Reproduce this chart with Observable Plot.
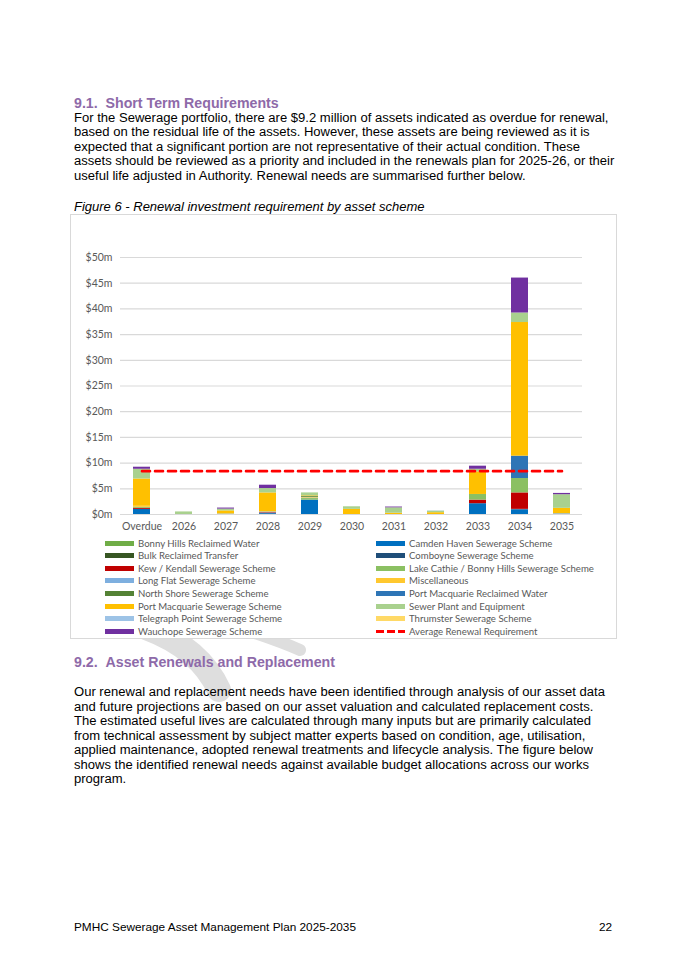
<!DOCTYPE html>
<html><head><meta charset="utf-8">
<script src="https://cdn.jsdelivr.net/npm/d3@7"></script>
<script src="https://cdn.jsdelivr.net/npm/@observablehq/plot@0.6"></script>
<style>
body{margin:0;background:#fff;}
#page{position:relative;width:685px;height:970px;overflow:hidden;font-family:"Liberation Sans",Arial,sans-serif;color:#000;background:#fff;}
.h{position:absolute;left:74px;font-weight:bold;font-size:14.2px;color:#8E6AA9;line-height:16px;white-space:nowrap;z-index:2}
.p{position:absolute;left:74px;font-size:13.05px;line-height:14.5px;white-space:nowrap;z-index:2}
.cap{position:absolute;left:74px;font-size:13px;line-height:15px;font-style:italic;white-space:nowrap}
#box{position:absolute;left:70px;top:214px;width:545px;height:423px;border:1px solid #D9D9D9;background:#fff;z-index:1}
#chart{position:absolute;left:0;top:0}
#legend{position:absolute;left:0;top:0;width:100%;height:100%;pointer-events:none}
.li{position:absolute;display:flex;align-items:center;height:12px;font-family:Lato,"Open Sans",sans-serif;font-size:9.6px;color:#595959;white-space:nowrap}
.sw{width:29px;height:5px;margin-right:4px;flex:none}
#wm{position:absolute;left:0;top:0;z-index:0}
.foot{position:absolute;top:919px;font-size:11.8px;line-height:16px;white-space:nowrap}
</style></head>
<body>
<div id="page">
<svg id="wm" width="685" height="970"><path d="M146,628 Q200,648 219,690" fill="none" stroke="#DEDEDE" stroke-width="24" stroke-linecap="round"/><path d="M252,632 Q282,642 300,650" fill="none" stroke="#DEDEDE" stroke-width="12" stroke-linecap="round"/></svg>
<div class="h" style="top:95px">9.1.&nbsp;&nbsp;Short Term Requirements</div>
<div class="p" style="top:110.5px">For the Sewerage portfolio, there are $9.2 million of assets indicated as overdue for renewal,<br>based on the residual life of the assets. However, these assets are being reviewed as it is<br>expected that a significant portion are not representative of their actual condition. These<br>assets should be reviewed as a priority and included in the renewals plan for 2025-26, or their<br>useful life adjusted in Authority. Renewal needs are summarised further below.</div>
<div class="cap" style="top:199px">Figure 6 - Renewal investment requirement by asset scheme</div>
<div id="box"><div id="chart"></div><div id="legend"></div></div>
<div class="h" style="top:654px">9.2.&nbsp;&nbsp;Asset Renewals and Replacement</div>
<div class="p" style="top:685px">Our renewal and replacement needs have been identified through analysis of our asset data<br>and future projections are based on our asset valuation and calculated replacement costs.<br>The estimated useful lives are calculated through many inputs but are primarily calculated<br>from technical assessment by subject matter experts based on condition, age, utilisation,<br>applied maintenance, adopted renewal treatments and lifecycle analysis. The figure below<br>shows the identified renewal needs against available budget allocations across our works<br>program.</div>
<div class="foot" style="left:74px">PMHC Sewerage Asset Management Plan 2025-2035</div>
<div class="foot" style="right:73px">22</div>
</div>
<script>
// ---- data ($m) ----
const categories = ["Overdue","2026","2027","2028","2029","2030","2031","2032","2033","2034","2035"];
const yTicks = [0,5,10,15,20,25,30,35,40,45,50];
const averageRequirement = 8.43;

// stack order (bottom to top)
const seriesNames = [
  "Bonny Hills Reclaimed Water","Bulk Reclaimed Transfer","Camden Haven Sewerage Scheme","Comboyne Sewerage Scheme",
  "Kew / Kendall Sewerage Scheme","Lake Cathie / Bonny Hills Sewerage Scheme","Long Flat Sewerage Scheme","Miscellaneous",
  "North Shore Sewerage Scheme","Port Macquarie Reclaimed Water","Port Macquarie Sewerage Scheme","Sewer Plant and Equipment",
  "Telegraph Point Sewerage Scheme","Thrumster Sewerage Scheme","Wauchope Sewerage Scheme"];
const seriesColors = ["#70AD47","#375623","#0070C0","#1F4E79","#C00000","#8BC062","#7EAFDF","#FFC82F",
  "#548235","#2E75B6","#FFC000","#A9D18E","#9DC3E6","#FFD966","#7030A0"];

const bonnyHills   = [0,0,0,0,0,0,0,0,0,0,0];
const bulkTransfer = [0,0,0,0,0,0,0,0,0,0,0];
const camdenHaven  = [1.0,0,0,0.15,2.8,0,0,0,2.1,0.9,0];
const comboyne     = [0,0,0,0.1,0,0,0,0,0,0.1,0];
const kewKendall   = [0.2,0,0,0.1,0,0,0,0,0.7,3.2,0];
const lakeCathie   = [0.2,0,0,0,0.3,0,0,0,1.1,2.8,0];
const longFlat     = [0,0,0.1,0.15,0.1,0,0,0,0,0,0.15];
const miscellaneous= [0.2,0,0,0,0.15,0,0,0,0,0,0];
const northShore   = [0,0,0,0,0.2,0,0,0,0,0,0];
const pmReclaimed  = [0,0,0,0,0,0,0,0,0,4.35,0];
const pmSewerage   = [5.3,0,0.6,3.7,0.1,1.0,0.25,0.35,4.4,26.0,1.05];
const sewerPlant   = [1.9,0.5,0.35,0.85,0.55,0.5,1.05,0.3,0.5,1.85,2.65];
const telegraph    = [0,0,0,0,0,0,0,0.05,0,0,0];
const thrumster    = [0,0,0,0,0,0,0,0,0,0,0];
const wauchope     = [0.4,0,0.2,0.65,0,0,0.15,0,0.6,6.8,0.25];

const seriesValues = [bonnyHills,bulkTransfer,camdenHaven,comboyne,kewKendall,lakeCathie,longFlat,miscellaneous,
  northShore,pmReclaimed,pmSewerage,sewerPlant,telegraph,thrumster,wauchope];

// legend layout as in the reference (left column, then right column)
const legendLeft = ["Bonny Hills Reclaimed Water","Bulk Reclaimed Transfer","Kew / Kendall Sewerage Scheme","Long Flat Sewerage Scheme",
  "North Shore Sewerage Scheme","Port Macquarie Sewerage Scheme","Telegraph Point Sewerage Scheme","Wauchope Sewerage Scheme"];
const legendRight = ["Camden Haven Sewerage Scheme","Comboyne Sewerage Scheme","Lake Cathie / Bonny Hills Sewerage Scheme","Miscellaneous",
  "Port Macquarie Reclaimed Water","Sewer Plant and Equipment","Thrumster Sewerage Scheme","Average Renewal Requirement"];

// ---- build tables ----
const rows = [];
seriesNames.forEach((s,i)=>categories.forEach((c,j)=>{ if (seriesValues[i][j] > 0) rows.push({series:s, category:c, value:seriesValues[i][j]}); }));
const avgRows = categories.map(c=>({category:c, value:averageRequirement}));

const chart = Plot.plot({
  width:545, height:320, marginLeft:49, marginRight:34, marginTop:42, marginBottom:21,
  style:{fontFamily:"Lato, 'Open Sans', sans-serif", fontSize:"10.5px", color:"#595959", background:"transparent", overflow:"visible"},
  x:{domain:categories, paddingInner:0.6, paddingOuter:0.3, label:null},
  y:{domain:[0,50], label:null},
  color:{domain:seriesNames, range:seriesColors},
  marks:[
    Plot.gridY(yTicks,{stroke:"#D9D9D9", strokeOpacity:1, strokeWidth:1.2}),
    Plot.axisY(yTicks,{tickSize:0, tickPadding:8, tickFormat:d=>`$${d}m`, label:null, fill:"#595959"}),
    Plot.axisX({tickSize:0, tickPadding:8, label:null, fill:"#595959"}),
    Plot.barY(rows,{x:"category", y:"value", fill:"series", order:seriesNames}),
    Plot.lineY(avgRows,{x:"category", y:"value", stroke:"#FF0000", strokeWidth:2.6, strokeDasharray:"8,5"})
  ]
});
document.getElementById("chart").appendChild(chart);

// ---- legend ----
const legend = document.getElementById("legend");
const colorOf = n => seriesColors[seriesNames.indexOf(n)];
function addItem(name, left, top){
  const d = document.createElement("div");
  d.className = "li"; d.style.left = left+"px"; d.style.top = top+"px";
  const sw = document.createElement("div"); sw.className = "sw";
  if (name === "Average Renewal Requirement") {
    sw.style.height = "3px";
    sw.style.background = "repeating-linear-gradient(90deg,#FF0000 0 8px,transparent 8px 11px)";
  } else sw.style.background = colorOf(name);
  const t = document.createElement("span"); t.textContent = name;
  d.appendChild(sw); d.appendChild(t); legend.appendChild(d);
}
legendLeft.forEach((n,i)=>addItem(n, 34, 322 + i*12.6));
legendRight.forEach((n,i)=>addItem(n, 305, 322 + i*12.6));
</script>
</body></html>
